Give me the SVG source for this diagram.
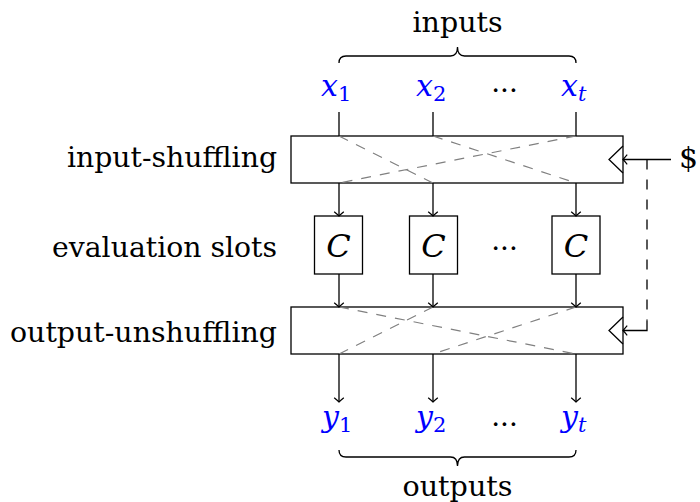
<svg xmlns="http://www.w3.org/2000/svg" width="700" height="502" viewBox="0 0 700 502">
  <style>
    text { font-family: "DejaVu Serif", serif; }
    .txt { font-size: 28px; fill: #000; }
    .math { font-style: italic; font-size: 30px; fill: #0000ff; }
    .cap { font-style: italic; font-size: 32px; fill: #000; }
    .sub { font-style: normal; font-size: 21px; }
    .subi { font-style: italic; font-size: 21px; }
    .box { fill: none; stroke: #000; stroke-width: 1.3; }
    .wire { fill: none; stroke: #000; stroke-width: 1.3; }
    .perm { fill: none; stroke: #808080; stroke-width: 1.2; stroke-dasharray: 10 9; }
    .seed { fill: none; stroke: #000; stroke-width: 1.3; stroke-dasharray: 10 10; }
  </style>
  <defs>
    <marker id="to" viewBox="-6 -6 8 12" refX="0" refY="0" markerWidth="8" markerHeight="12" markerUnits="userSpaceOnUse" orient="auto">
      <path d="M-4.2,-4.8 Q-1.2,-1.2 0,0 Q-1.2,1.2 -4.2,4.8" fill="none" stroke="#000" stroke-width="1.2"/>
    </marker>
  </defs>

  <!-- row labels -->
  <g id="row-labels">
    <text class="txt" x="277" y="167" text-anchor="end" textLength="210" lengthAdjust="spacingAndGlyphs">input-shuffling</text>
    <text class="txt" x="277" y="257" text-anchor="end" textLength="225" lengthAdjust="spacingAndGlyphs">evaluation slots</text>
    <text class="txt" x="277" y="342" text-anchor="end" textLength="267" lengthAdjust="spacingAndGlyphs">output-unshuffling</text>
  </g>

  <!-- inputs with brace -->
  <g id="inputs">
    <text class="txt" x="457.5" y="32" text-anchor="middle" textLength="90" lengthAdjust="spacingAndGlyphs">inputs</text>
    <path class="wire" d="M339,63 q0,-7 7,-7 h104.5 q7,0 7,-9 q0,9 7,9 h104.5 q7,0 7,7"/>
    <text class="math" x="321" y="96">x<tspan class="sub" dy="5">1</tspan></text>
    <text class="math" x="416" y="96">x<tspan class="sub" dy="5">2</tspan></text>
    <text class="txt" x="504.5" y="100" text-anchor="middle">···</text>
    <text class="math" x="561" y="96">x<tspan class="subi" dy="5">t</tspan></text>
  </g>

  <!-- input shuffling box -->
  <g id="shuffle">
    <rect class="box" x="291" y="136" width="332" height="47"/>
    <path class="perm" d="M339,136 L433,183 M433,136 L576,183 M576,136 L339,183"/>
    <path class="box" d="M623,146 L609,159.5 L623,173"/>
  </g>

  <!-- evaluation slots -->
  <g id="slot-1">
    <rect class="box" x="314.5" y="216" width="48" height="58"/>
    <text class="cap" x="338.5" y="257" text-anchor="middle">C</text>
  </g>
  <g id="slot-2">
    <rect class="box" x="409.5" y="216" width="48" height="58"/>
    <text class="cap" x="433.5" y="257" text-anchor="middle">C</text>
  </g>
  <text class="txt" x="504.5" y="258" text-anchor="middle">···</text>
  <g id="slot-t">
    <rect class="box" x="552" y="216" width="48" height="58"/>
    <text class="cap" x="576" y="257" text-anchor="middle">C</text>
  </g>

  <!-- output unshuffling box -->
  <g id="unshuffle">
    <rect class="box" x="291" y="307" width="332" height="47"/>
    <path class="perm" d="M433,307 L339,354 M576,307 L433,354 M339,307 L576,354"/>
    <path class="box" d="M623,317 L609,330.5 L623,344"/>
  </g>

  <!-- outputs with brace -->
  <g id="outputs">
    <text class="math" x="322" y="427">y<tspan class="sub" dy="5">1</tspan></text>
    <text class="math" x="416" y="427">y<tspan class="sub" dy="5">2</tspan></text>
    <text class="txt" x="504.5" y="434" text-anchor="middle">···</text>
    <text class="math" x="561" y="427">y<tspan class="subi" dy="5">t</tspan></text>
    <path class="wire" d="M339,450 q0,7 7,7 h104.5 q7,0 7,9 q0,-9 7,-9 h104.5 q7,0 7,-7"/>
    <text class="txt" x="457.5" y="496" text-anchor="middle" textLength="110" lengthAdjust="spacingAndGlyphs">outputs</text>
  </g>

  <!-- randomness source -->
  <g id="seed">
    <text class="txt" x="679" y="168" style="font-size:30px">$</text>
  </g>

  <!-- connectors -->
  <g id="connectors">
    <path class="wire" d="M339,112 V136 M433,112 V136 M576,112 V136"/>
    <path class="wire" marker-end="url(#to)" d="M339,183 V216"/>
    <path class="wire" marker-end="url(#to)" d="M433,183 V216"/>
    <path class="wire" marker-end="url(#to)" d="M576,183 V216"/>
    <path class="wire" marker-end="url(#to)" d="M339,274 V307"/>
    <path class="wire" marker-end="url(#to)" d="M433,274 V307"/>
    <path class="wire" marker-end="url(#to)" d="M576,274 V307"/>
    <path class="wire" marker-end="url(#to)" d="M339,354 V402"/>
    <path class="wire" marker-end="url(#to)" d="M433,354 V402"/>
    <path class="wire" marker-end="url(#to)" d="M576,354 V402"/>
    <path class="wire" marker-end="url(#to)" d="M671,159.5 H623"/>
    <path class="seed" d="M647,159.5 V320.5"/>
    <path class="wire" marker-end="url(#to)" d="M647,320.5 V330.5 H623"/>
  </g>
</svg>
